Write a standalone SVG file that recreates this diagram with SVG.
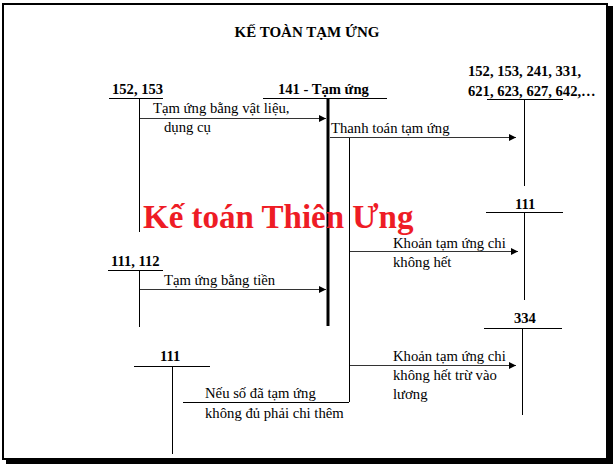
<svg xmlns="http://www.w3.org/2000/svg" width="613" height="464" viewBox="0 0 613 464">
<defs>
<marker id="ah" viewBox="0 0 10 10" refX="10" refY="5" markerWidth="10" markerHeight="7" markerUnits="userSpaceOnUse" orient="auto">
<path d="M0,0 L10,5 L0,10 z" fill="#000"/>
</marker>
<style>
text{font-family:"Liberation Serif","Times New Roman",serif;fill:#000}
.t{font-size:14.7px}
.b{font-size:14.6px;font-weight:bold}
.ln{stroke:#000;stroke-width:1;fill:none}
.arr{stroke:#333;stroke-width:1;fill:none;marker-end:url(#ah)}
.wm{font-size:33px;font-weight:bold;fill:#ee1c25}
</style>
</defs>
<rect x="0" y="0" width="613" height="464" fill="#fff"/>
<g id="frame">
<rect x="3" y="4" width="604" height="455" fill="none" stroke="#000" stroke-width="2"/>
<rect x="607" y="6" width="6" height="458" fill="#000"/>
<rect x="6" y="459" width="607" height="5" fill="#000"/>
</g>
<text x="307" y="37" class="b" text-anchor="middle" style="font-size:15px">KẾ TOÀN TẠM ỨNG</text>
<g id="acc15253">
<text x="112" y="94" class="b">152, 153</text>
<line x1="109" y1="98.5" x2="163" y2="98.5" class="ln"/>
<line x1="139.5" y1="98" x2="139.5" y2="232" class="ln"/>
</g>
<g id="acc141">
<text x="278" y="94" class="b">141 - Tạm ứng</text>
<line x1="263" y1="98.5" x2="387" y2="98.5" class="ln" stroke-width="2"/>
<line x1="328" y1="98" x2="328" y2="326" stroke="#000" stroke-width="3"/>
<line x1="349.5" y1="137" x2="349.5" y2="402" class="ln"/>
</g>
<g id="accRight">
<text x="468" y="76" class="b">152, 153, 241, 331,</text>
<text x="468" y="96" class="b">621, 623, 627, 642,…</text>
<line x1="487" y1="99.5" x2="563" y2="99.5" class="ln"/>
<line x1="524.5" y1="99" x2="524.5" y2="186" class="ln"/>
</g>
<g id="acc111r">
<text x="515" y="209" class="b">111</text>
<line x1="486" y1="212.5" x2="563" y2="212.5" class="ln"/>
<line x1="524.5" y1="212" x2="524.5" y2="300" class="ln"/>
</g>
<g id="acc334">
<text x="514" y="323" class="b">334</text>
<line x1="484" y1="328.5" x2="562" y2="328.5" class="ln"/>
<line x1="522.5" y1="328" x2="522.5" y2="415" class="ln"/>
</g>
<g id="acc111112">
<text x="111" y="266" class="b">111, 112</text>
<line x1="108" y1="270.5" x2="163" y2="270.5" class="ln"/>
<line x1="139.5" y1="270" x2="139.5" y2="327" class="ln"/>
</g>
<g id="acc111b">
<text x="160" y="361" class="b">111</text>
<line x1="134" y1="366.5" x2="210" y2="366.5" class="ln"/>
<line x1="172.5" y1="366" x2="172.5" y2="454" class="ln"/>
</g>
<g id="connectors">
<line x1="140" y1="118.5" x2="326" y2="118.5" class="arr"/>
<line x1="330" y1="137.5" x2="516" y2="137.5" class="arr"/>
<line x1="350" y1="251.5" x2="518" y2="251.5" class="arr"/>
<line x1="350" y1="365.5" x2="516" y2="365.5" class="arr"/>
<line x1="140" y1="289.5" x2="326" y2="289.5" class="arr"/>
<line x1="183" y1="402.5" x2="349" y2="402.5" class="ln"/>
</g>
<g id="labels">
<text x="153" y="113" class="t">Tạm ứng bằng vật liệu,</text>
<text x="164" y="132" class="t">dụng cụ</text>
<text x="331" y="133" class="t">Thanh toán tạm ứng</text>
<text x="393" y="248" class="t">Khoản tạm ứng chi</text>
<text x="393" y="267" class="t">không hết</text>
<text x="393" y="361" class="t">Khoản tạm ứng chi</text>
<text x="393" y="380" class="t">không hết trừ vào</text>
<text x="393" y="399" class="t">lương</text>
<text x="164" y="285" class="t">Tạm ứng bằng tiền</text>
<text x="205" y="398" class="t">Nếu số đã tạm ứng</text>
<text x="205" y="418" class="t">không đủ phải chi thêm</text>
</g>
<text x="143" y="228" class="wm">Kế toán Thiên Ưng</text>
</svg>
